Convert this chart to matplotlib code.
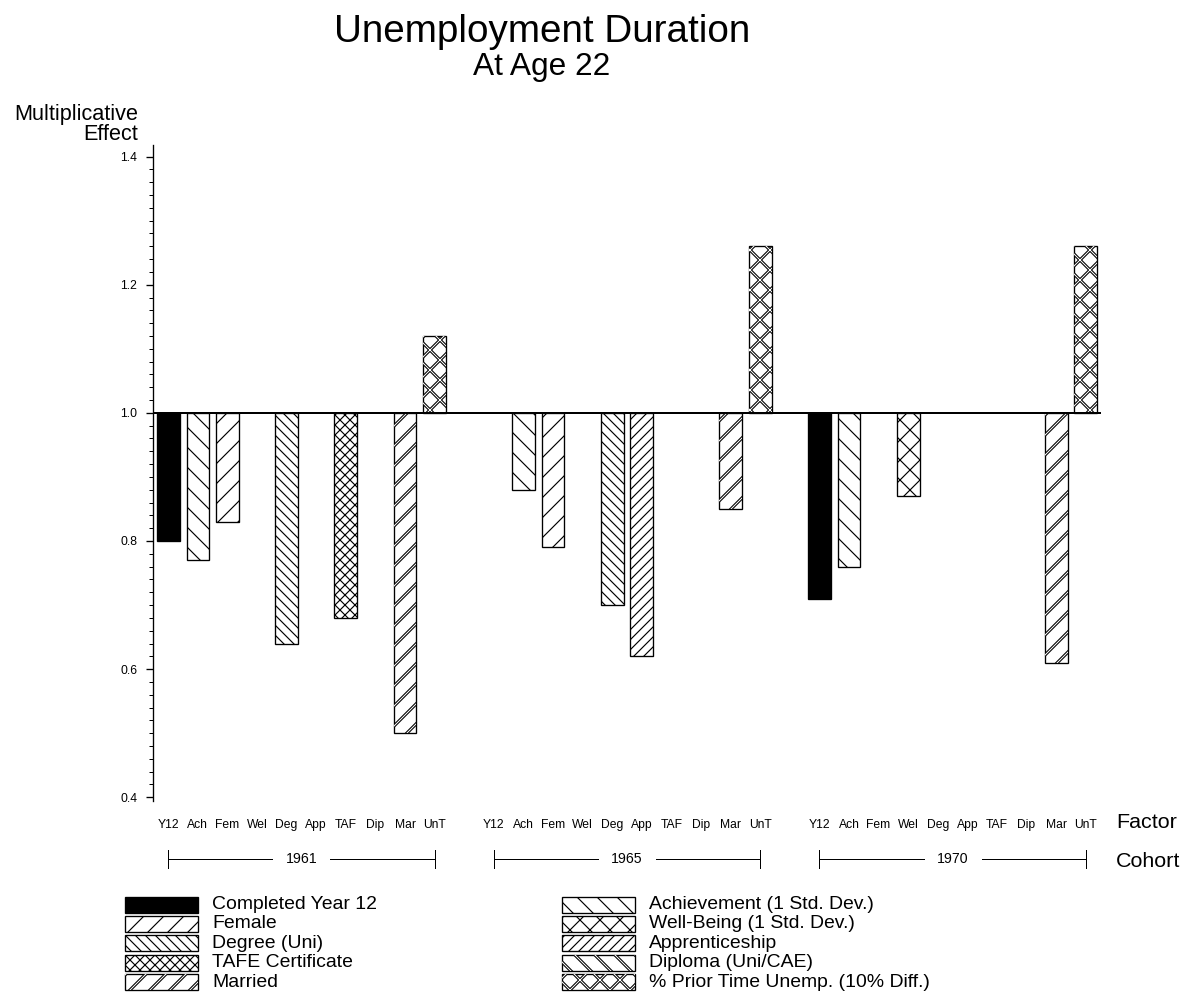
import numpy as np
import matplotlib.pyplot as plt
from matplotlib.patches import Rectangle
from matplotlib.ticker import MultipleLocator, FormatStrFormatter

plt.rcParams['font.family'] = ['Liberation Sans', 'DejaVu Sans']

# factor codes (x tick labels) and their legend names
factors = ['Y12', 'Ach', 'Fem', 'Wel', 'Deg', 'App', 'TAF', 'Dip', 'Mar', 'UnT']
factor_names = ['Completed Year 12', 'Achievement (1 Std. Dev.)', 'Female',
                'Well-Being (1 Std. Dev.)', 'Degree (Uni)', 'Apprenticeship',
                'TAFE Certificate', 'Diploma (Uni/CAE)', 'Married',
                '% Prior Time Unemp. (10% Diff.)']
cohorts = ['1961', '1965', '1970']

nan = np.nan
# multiplicative effect per factor (nan = no bar)
effect_1961 = [0.80, 0.77, 0.83, nan, 0.64, nan, 0.68, nan, 0.50, 1.12]
effect_1965 = [nan, 0.88, 0.79, nan, 0.70, 0.62, nan, nan, 0.85, 1.26]
effect_1970 = [0.71, 0.76, nan, 0.87, nan, nan, nan, nan, 0.61, 1.26]
effects = [effect_1961, effect_1965, effect_1970]

# fill colour, hatch, doubled hatch lines
styles = {
    'Y12': ('black', '', False),
    'Ach': ('white', '\\\\', False),
    'Fem': ('white', '//', False),
    'Wel': ('white', 'xx', False),
    'Deg': ('white', '\\\\\\\\', False),
    'App': ('white', '////', False),
    'TAF': ('white', 'xxxx', False),
    'Dip': ('white', '\\\\', True),
    'Mar': ('white', '//', True),
    'UnT': ('white', 'xx', True),
}

W, H = 1188, 996
DPI = 120


def fx(px):
    return px / W


def fy(py):
    return 1 - py / H


def hatch_lw(patch, lw):
    if hasattr(patch, 'set_hatch_linewidth'):
        patch.set_hatch_linewidth(lw)


def styled_rects(make, code):
    """make(**kw) draws one rectangle; returns the drawn patches"""
    face, hatch, double = styles[code]
    out = []
    with plt.rc_context({'hatch.linewidth': 1.9 if double else 0.7}):
        p = make(facecolor=face, edgecolor='black', hatch=hatch, linewidth=0.8)
    for q in p:
        hatch_lw(q, 1.9 if double else 0.7)
    out += list(p)
    if double:
        with plt.rc_context({'hatch.linewidth': 0.6}):
            p2 = make(facecolor='none', edgecolor='white', hatch=hatch, linewidth=0)
        for q in p2:
            hatch_lw(q, 0.6)
        out += list(p2)
    return out


fig = plt.figure(figsize=(W / DPI, H / DPI), dpi=DPI)
ax = fig.add_axes([fx(152.5), fy(800.5), fx(1100.5) - fx(152.5), fy(145) - fy(800.5)])

n = len(factors)
step = n + 1
for g, vals in enumerate(effects):
    for i, code in enumerate(factors):
        v = vals[i]
        if np.isnan(v):
            continue
        pos = g * step + i
        styled_rects(lambda **kw: ax.bar(pos, v - 1.0, bottom=1.0, width=0.77, **kw), code)

ax.axhline(1.0, color='black', lw=1.2, zorder=3)

ax.set_xlim(-0.534, 31.5)
ax.set_ylim(0.395, 1.418)
for s in ['top', 'right', 'bottom']:
    ax.spines[s].set_visible(False)
ax.spines['left'].set_linewidth(0.8)

ax.yaxis.set_major_locator(MultipleLocator(0.2))
ax.yaxis.set_minor_locator(MultipleLocator(0.02))
ax.yaxis.set_major_formatter(FormatStrFormatter('%.1f'))
ax.tick_params(axis='y', which='major', length=4.2, width=0.8, pad=5, labelsize=7.3)
ax.tick_params(axis='y', which='minor', length=2.4, width=0.6)

positions = [g * step + i for g in range(len(cohorts)) for i in range(n)]
ax.set_xticks(positions, labels=factors * len(cohorts))
ax.tick_params(axis='x', length=0, pad=11, labelsize=7.3)

# cohort brackets below factor labels
trans = ax.get_xaxis_transform()
axh = 800.5 - 145
yb = -(859 - 800.5) / axh
dt = 9 / axh
gap = 29 / 29.6
for g, c in enumerate(cohorts):
    x0, x1 = g * step, g * step + n - 1
    xc = (x0 + x1) / 2
    kw = dict(transform=trans, clip_on=False, color='black', lw=0.6)
    ax.plot([x0, xc - gap], [yb, yb], **kw)
    ax.plot([xc + gap, x1], [yb, yb], **kw)
    ax.plot([x0, x0], [yb - dt, yb + dt], **kw)
    ax.plot([x1, x1], [yb - dt, yb + dt], **kw)
    ax.text(xc, yb, c, transform=trans, ha='center', va='center', fontsize=8.5)

# titles and axis captions
fig.text(fx(542), fy(42), 'Unemployment Duration', ha='center', va='baseline', fontsize=23.2)
fig.text(fx(541.5), fy(75), 'At Age 22', ha='center', va='baseline', fontsize=19)
fig.text(fx(138), fy(120), 'Multiplicative', ha='right', va='baseline', fontsize=13)
fig.text(fx(138), fy(140), 'Effect', ha='right', va='baseline', fontsize=13)
fig.text(fx(1116), fy(828), 'Factor', ha='left', va='baseline', fontsize=12.9)
fig.text(fx(1116), fy(867), 'Cohort', ha='left', va='baseline', fontsize=12.9)

# legend: two columns, row-major in factor order
col_x = [125, 562]
row0, row_dy = 904.5, 19.4
pw, ph = 73, 16
for k, code in enumerate(factors):
    r, c = divmod(k, 2)
    cy = row0 + r * row_dy
    x0 = col_x[c]

    def make(x0=x0, cy=cy, **kw):
        rect = Rectangle((fx(x0), fy(cy + ph / 2)), fx(pw), fy(cy - ph / 2) - fy(cy + ph / 2),
                         transform=fig.transFigure, **kw)
        fig.add_artist(rect)
        return [rect]

    styled_rects(make, code)
    fig.text(fx(x0 + 87), fy(cy), factor_names[k], ha='left', va='center', fontsize=11.6)

fig.savefig('out.png', dpi=DPI)
